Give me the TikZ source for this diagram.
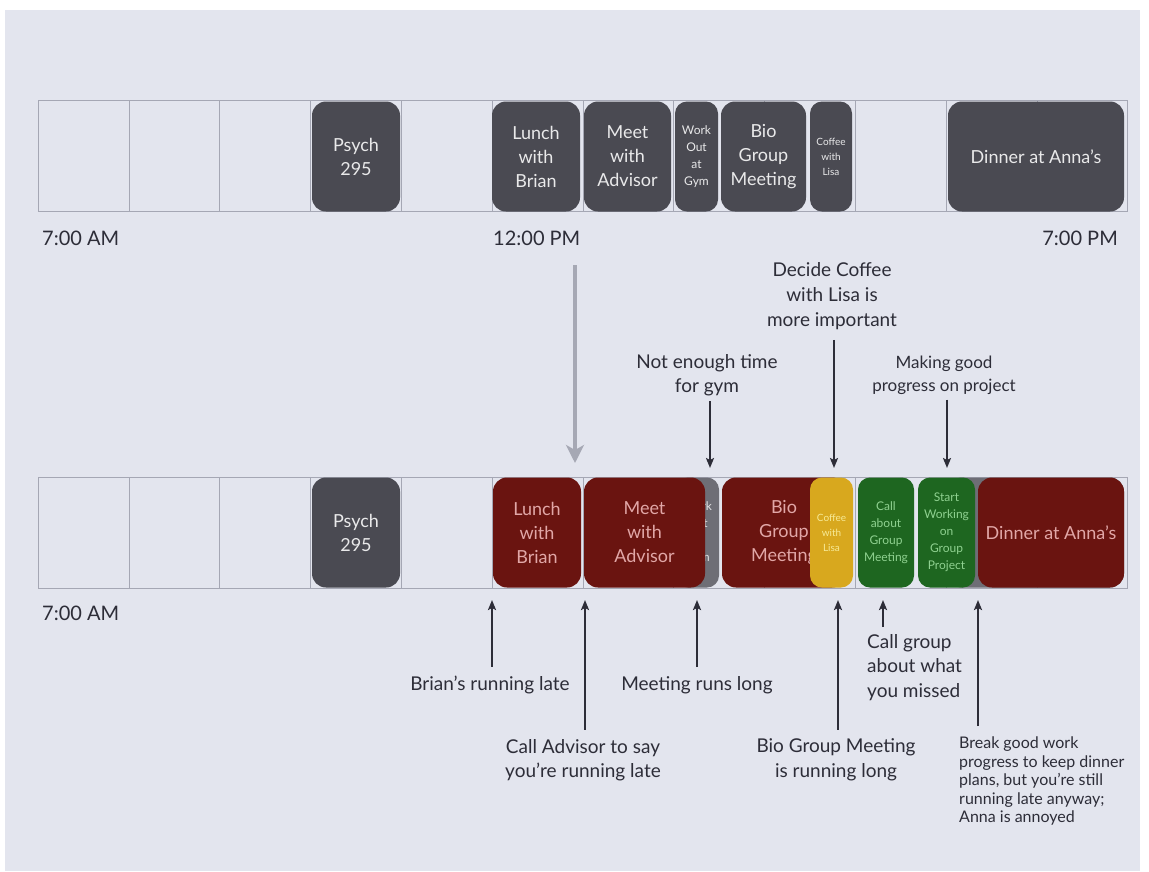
\documentclass[tikz,border=0pt]{standalone}
\usepackage{fontspec}
\setmainfont{Lato}
\usepackage{xcolor}
\usepackage{tikz}
\usetikzlibrary{arrows.meta, positioning, calc}
\definecolor{page_bg}{RGB}{227,229,238}
\definecolor{grid_line}{RGB}{165,167,180}
\definecolor{evt_gray}{RGB}{74,74,82}
\definecolor{evt_faded}{RGB}{110,110,118}
\definecolor{evt_red}{RGB}{106,20,16}
\definecolor{evt_yellow}{RGB}{216,168,30}
\definecolor{evt_green}{RGB}{30,102,32}
\definecolor{note_ink}{RGB}{45,45,56}
\definecolor{shift_gray}{RGB}{166,168,180}

\tikzset{
  evt/.style={rounded corners=14pt, inner sep=0pt, align=center,
    minimum height=110pt, font=\fontsize{18}{24}\selectfont},
  evtgray/.style={evt, fill=evt_gray, text=white!88!evt_gray},
  evtred/.style={evt, fill=evt_red, text=red!20!white!80!evt_red},
  evtsmall/.style={rounded corners=12pt, font=\fontsize{12}{17}\selectfont},
  evttiny/.style={rounded corners=12pt, font=\fontsize{10}{15}\selectfont},
  timelbl/.style={text=note_ink, font=\fontsize{20}{24}\selectfont, inner sep=0pt},
  note/.style={align=center, text=note_ink, font=\fontsize{19}{24.5}\selectfont, inner sep=1pt},
  darr/.style={draw=note_ink, line width=2pt, -{Stealth[length=10pt,width=8pt,inset=2pt]}},
}

\begin{document}
\begin{tikzpicture}[x=1pt, y=-1pt]
  \useasboundingbox (0,0) rectangle (1149,871);
  \fill[page_bg] (5,10) rectangle (1140,871);

  % hour grid, 7 AM to 7 PM
  \foreach \row in {100, 477} {
    \draw[grid_line, line width=0.6pt] (38,\row) rectangle (1127.6,{\row+111});
    \foreach \h in {1,...,11}
      \draw[grid_line, line width=0.6pt] ({38+90.8*\h},\row) -- ({38+90.8*\h},{\row+111});
  }

  % planned day
  \node[evtgray, minimum width=88pt] (psychA) at (356,156.5) {Psych\\295};
  \node[evtgray, minimum width=88pt] (lunchA) at (536,156.5) {Lunch\\with\\Brian};
  \node[evtgray, minimum width=87pt] (meetA) at (627.5,156.5) {Meet\\with\\Advisor};
  \node[evtgray, evtsmall, minimum width=43pt] (gymA) at (696.5,156.5) {Work\\Out\\at\\Gym};
  \node[evtgray, minimum width=85pt] (bioA) at (763.5,156.5) {Bio\\Group\\Meeting};
  \node[evtgray, evttiny, minimum width=42pt] (coffeeA) at (831,156.5) {Coffee\\with\\Lisa};
  \node[evtgray, minimum width=176pt] (dinnerA) at (1036,156.5) {Dinner at Anna's};

  \node[timelbl, anchor=west] (amA) at (42,238) {7:00 AM};
  \node[timelbl, anchor=west] (noonA) at (493,238) {12:00 PM};
  \node[timelbl, anchor=east] (pmA) at (1118,238) {7:00 PM};

  % what actually happens
  \node[evtgray, minimum width=88pt] (psychB) at (356,532.5) {Psych\\295};
  \node[evtred, minimum width=88pt] (lunchB) at (537,532.5) {Lunch\\with\\Brian};
  \node[evt, evtsmall, fill=evt_faded, text=white!80!evt_faded, minimum width=43pt] (gymB) at (697.5,532.5) {Work\\Out\\at\\Gym};
  \node[evtred, minimum width=121pt] (meetB) at (644.5,532.5) {Meet\\with\\Advisor};
  \node[evtred, minimum width=124pt] (bioB) at (784,532.5) {Bio\\Group\\Meeting};
  \node[evt, evttiny, fill=evt_yellow, text=yellow!30!white!80!evt_yellow, minimum width=43pt] (coffeeB) at (831.5,532.5) {Coffee\\with\\Lisa};
  \node[evt, evtsmall, fill=evt_green, text=green!25!white!70!evt_green, minimum width=56pt] (callB) at (886,532.5) {Call\\about\\Group\\Meeting};
  \node[evt, fill=evt_faded, minimum width=176pt] (dinnerOld) at (1036,532.5) {};
  \node[evt, evtsmall, fill=evt_green, text=green!25!white!70!evt_green, minimum width=57pt] (startB) at (946.5,532.5) {Start\\Working\\on\\Group\\Project};
  \node[evtred, minimum width=146pt] (dinnerB) at (1051,532.5) {Dinner at Anna's};

  \node[timelbl, anchor=west] (amB) at (42,613) {7:00 AM};

  % shift from plan to reality
  \coordinate (shiftTop) at (575,265);
  \coordinate (shiftTip) at (575,463);
  \draw[shift_gray, line width=4pt, -{Stealth[length=18pt,width=18pt,inset=5pt]}] (shiftTop) -- (shiftTip);

  % notes above
  \node[note, font=\fontsize{19}{25}\selectfont] (decide) at (832,296) {Decide Coffee\\with Lisa is\\more important};
  \node[note] (nogym) at (707,375) {Not enough time\\for gym};
  \node[note, font=\fontsize{17}{23}\selectfont] (progress) at (944,375) {Making good\\progress on project};
  \coordinate (decideTip) at (834,468);
  \coordinate (nogymTip) at (710,468);
  \coordinate (progressTip) at (947,468);
  \draw[darr, shorten <=9pt] (decideTip |- decide.south) -- (decideTip);
  \draw[darr, shorten <=4pt] (nogymTip |- nogym.south) -- (nogymTip);
  \draw[darr, shorten <=4pt] (progressTip |- progress.south) -- (progressTip);

  % notes below
  \node[note] (brian) at (490,685) {Brian's running late};
  \node[note] (advisor) at (583,760) {Call Advisor to say\\you're running late};
  \node[note] (runlong) at (697,685) {Meeting runs long};
  \node[note] (biolong) at (836,760) {Bio Group Meeting\\is running long};
  \node[note, align=left, anchor=north west] (callgrp) at (866,633) {Call group\\about what\\you missed};
  \node[note, align=left, anchor=north west, font=\fontsize{16}{18.5}\selectfont] (breaknote) at (958,736)
    {Break good work\\progress to keep dinner\\plans, but you're still\\running late anyway;\\Anna is annoyed};
  \coordinate (brianTip) at (492,600);
  \coordinate (advisorTip) at (585,600);
  \coordinate (runlongTip) at (697,600);
  \coordinate (biolongTip) at (838,600);
  \coordinate (callgrpTip) at (883,600);
  \coordinate (breakTip) at (978,600);
  \draw[darr, shorten <=8pt] (brianTip |- brian.north) -- (brianTip);
  \draw[darr, shorten <=8pt] (advisorTip |- advisor.north) -- (advisorTip);
  \draw[darr, shorten <=8pt] (runlongTip |- runlong.north) -- (runlongTip);
  \draw[darr, shorten <=8pt] (biolongTip |- biolong.north) -- (biolongTip);
  \draw[darr, shorten <=6pt] (callgrpTip |- callgrp.north) -- (callgrpTip);
  \draw[darr, shorten <=10pt] (breakTip |- breaknote.north) -- (breakTip);
\end{tikzpicture}
\end{document}
